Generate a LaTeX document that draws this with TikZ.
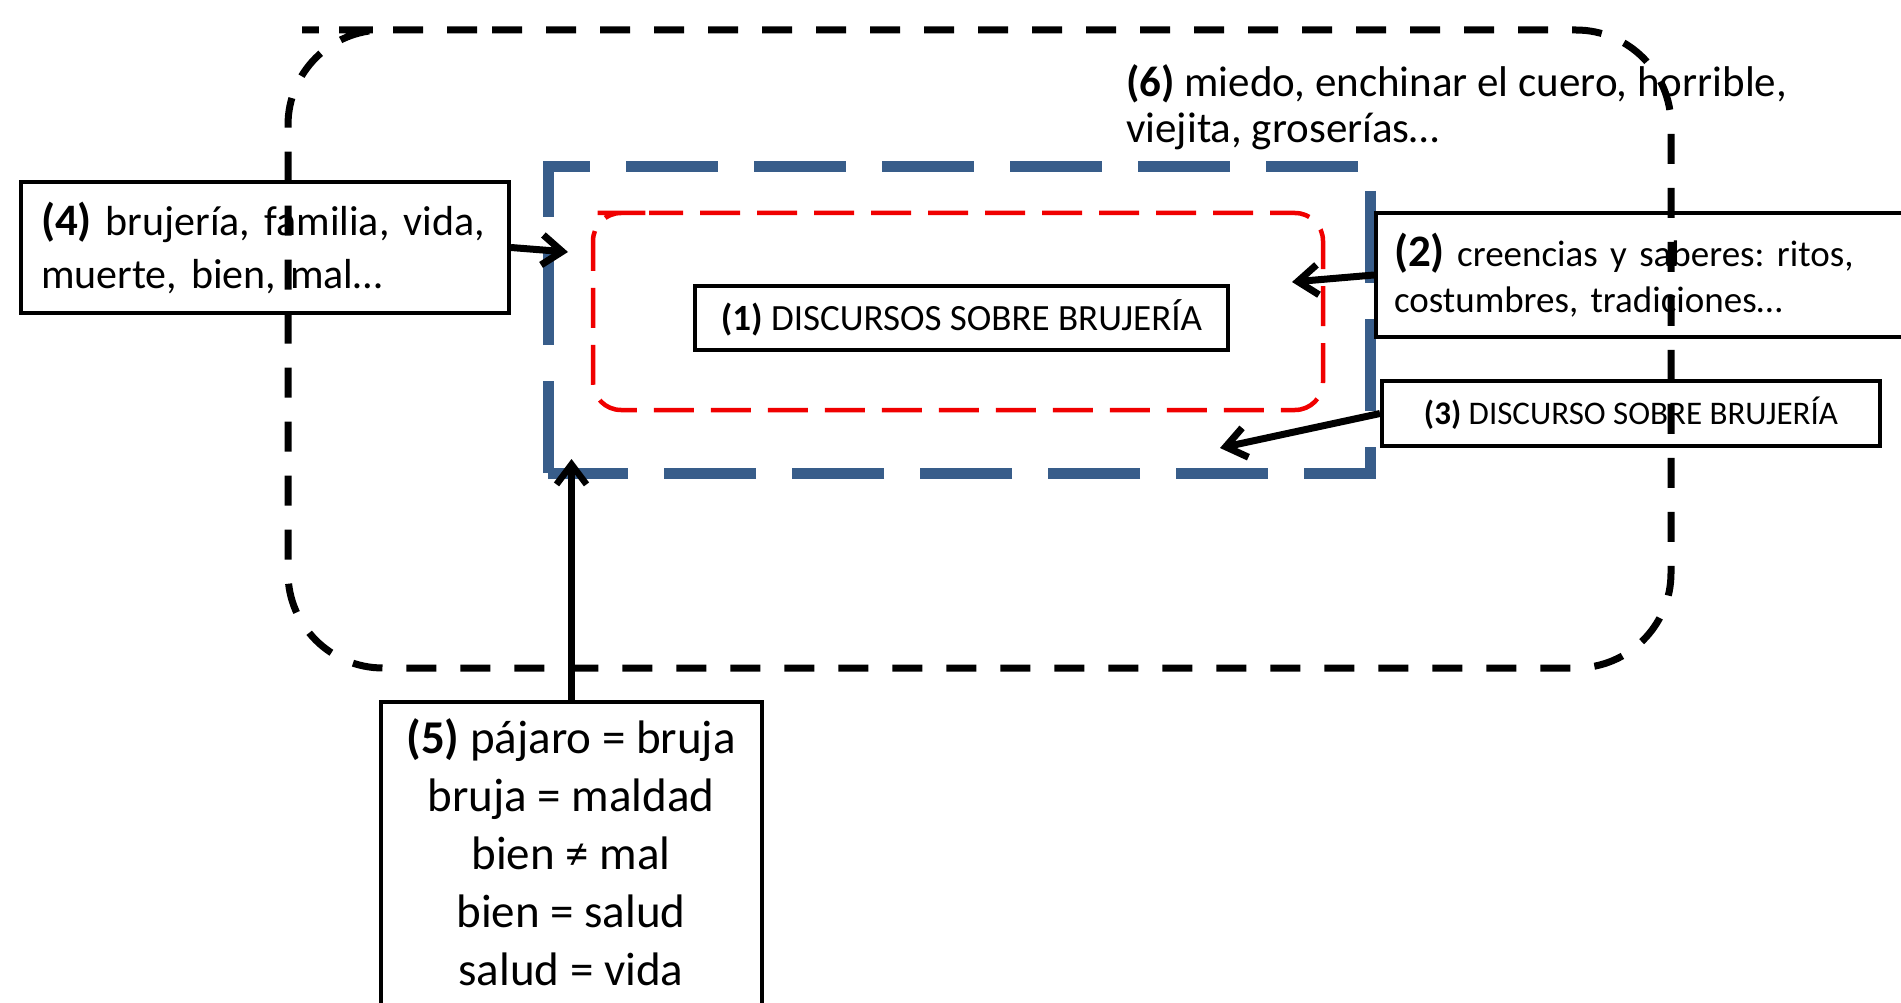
\documentclass[tikz,border=0pt]{standalone}
\usepackage{fontspec}
\setmainfont{Carlito}
\usetikzlibrary{arrows.meta}
\definecolor{frameblue}{RGB}{56,93,138}
\definecolor{framered}{RGB}{240,0,0}
\frenchspacing
\begin{document}
\begin{tikzpicture}[x=1pt,y=-1pt,
  box/.style={draw=black, line width=4pt, fill=white, inner sep=0pt},
  blueframe/.style={draw=frameblue, line width=11pt, dash pattern=on 92pt off 36pt, line join=miter},
  redframe/.style={draw=framered, line width=4.5pt, dash pattern=on 40pt off 17pt, dash phase=6pt, rounded corners=28pt},
  outerframe/.style={draw=black, line width=7pt, dash pattern=on 30pt off 24pt, rounded corners=95pt},
  arr/.style={draw=black, line width=7pt, -{Straight Barb[length=20pt,width=30pt]}}]
\useasboundingbox (0,0) rectangle (1901,1003);
\clip (0,0) rectangle (1901,1003);

% blue and red frames
\draw[blueframe] (548,473) -- (548,167) -- (1370,167) -- (1370,473) -- cycle;
\draw[redframe] (621,213) -- (1323,213) -- (1323,410) -- (593,410) -- (593,213) -- cycle;

% boxes
\node[box, line width=3.5pt, minimum width=533pt, minimum height=64pt,
      font=\fontsize{37}{44}\selectfont] (b1) at (961.5,318)
      {\textbf{(1)} DISCURSOS SOBRE BRUJERÍA};
\node[box, anchor=west, inner xsep=18pt, text width=564pt, minimum height=124pt,
      align=left, font=\fontsize{37}{46}\selectfont] (b2) at (1374,275)
      {{\bfseries\fontsize{45}{46}\selectfont (2)} creencias y saberes: ritos,\\ costumbres, tradiciones…};
\node[box, minimum width=498pt, minimum height=65pt,
      font=\fontsize{33}{40}\selectfont] (b3) at (1631,413.5)
      {\textbf{(3)} DISCURSO SOBRE BRUJERÍA};
\node[box, minimum width=488pt, minimum height=131pt, text width=448pt,
      align=left, font=\fontsize{42}{53}\selectfont] (b4) at (265,247.5)
      {{\bfseries\fontsize{45}{53}\selectfont (4)} brujería, familia, vida,\\ muerte, bien, mal…};
\node[box, anchor=north, minimum width=381pt, minimum height=400pt] (b5) at (571.5,700) {};
\node[anchor=north, inner sep=0pt, align=center, font=\fontsize{47}{58}\selectfont] (t5) at (571,718)
      {\textbf{(5)} pájaro = bruja\\ bruja = maldad\\ bien ≠ mal\\ bien = salud\\ salud = vida};

% arrows
\coordinate (tip4) at (568,252);
\coordinate (tip2) at (1292,282);
\coordinate (tip3) at (1220,448);
\coordinate (tip5) at (571.5,459);
\draw[arr] (b4.east) -- (tip4);
\draw[arr] (b2.west) -- (tip2);
\draw[arr] (b3.west) -- (tip3);
\draw[arr, line width=6.5pt] (b5.north) -- (tip5);

% text (6)
\node[anchor=north west, inner sep=0pt, align=left, font=\fontsize{43}{46}\selectfont] (t6) at (1126,64)
      {\textbf{(6)} miedo, enchinar el cuero, horrible,\\ viejita, groserías…};

% outer dashed frame
\draw[outerframe] (397,30) -- (1671,30) -- (1671,668) -- (288,668) -- (288,30) -- cycle;
\end{tikzpicture}
\end{document}
